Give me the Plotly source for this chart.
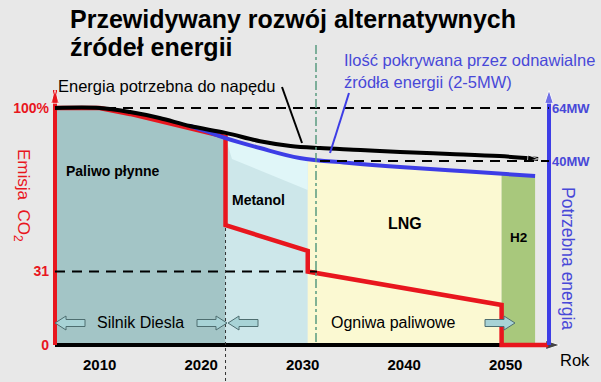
import numpy as np
import plotly.graph_objects as go

# ---------------- data ----------------
years_energy = [2005.6, 2010.0, 2013.0, 2015.9, 2018.9, 2022.4, 2025.8, 2028.8, 2031.7, 2035.7, 2039.6, 2044.5, 2049.4, 2053.2]
energy_need = [100, 100, 98.3, 95.8, 92.4, 89.5, 86.0, 84.0, 83.1, 82.3, 81.4, 80.6, 79.7, 78.5]

years_renew = [2018.9, 2020.5, 2022.4, 2025.8, 2029.7, 2034.6, 2039.6, 2046.0, 2052.9]
renewable = [92.4, 90.2, 87.3, 83.1, 78.9, 76.8, 75.1, 73.3, 71.3]

years_co2 = [2005.6, 2010.0, 2013.0, 2015.9, 2018.9, 2022.4, 2022.4, 2030.5, 2030.5, 2049.6, 2049.6, 2054.2]
co2 = [100, 100, 97.5, 94.5, 91.0, 87.8, 50.6, 39.7, 31, 16.9, 0, 0]

region_names = ["Paliwo płynne", "Metanol", "LNG", "H2"]
region_edges = [2005.6, 2022.4, 2030.5, 2049.6, 2052.9]
region_colors = ["#a3c5c6", "#cde7ea", "#fbf9d2", "#a8c87c"]

co2_tick_vals = [0, 31, 100]
co2_tick_text = ["0", "31", "100%"]
power_tick_vals = [77.6, 100]
power_tick_text = ["40MW", "64MW"]
year_ticks = [2010, 2020, 2030, 2040, 2050]

# ---------------- geometry helpers ----------------
W, H = 601, 382
ML, MR, MT, MB = 50, 26, 80, 32
PXY = 10.15   # px per year
PXV = 2.37    # px per value unit
AX_X = 2005.6
PW, PH = W - ML - MR, H - MT - MB
x_range = [AX_X - 5 / PXY, AX_X + (PW - 5) / PXY]
y_range = [-5 / PXV, (345 - MT) / PXV]


def yr(px):
    return AX_X + (px - 55) / PXY


def val(py):
    return (345 - py) / PXV


def xp(px):
    return (px - ML) / PW


def yp(py):
    return (H - MB - py) / PH


BLUE_AX = yr(549)
RED = "#e8161e"
BLUE = "#3d3de6"
TXTBLUE = "#4848d8"
FONT = "Liberation Sans, Arial, sans-serif"

fig = go.Figure()

# filled regions
for i, (name, col) in enumerate(zip(region_names, region_colors)):
    a, b = region_edges[i], region_edges[i + 1]
    if i == 0:
        xs_src, ys_src = years_co2[:6], co2[:6]
    else:
        xs_src, ys_src = years_renew, renewable
    inner = [x for x in xs_src if a < x < b]
    xs = [a] + inner + [b]
    ys = list(np.interp(xs, xs_src, ys_src))
    fig.add_trace(go.Scatter(x=xs, y=ys, fill="tozeroy", fillcolor=col, mode="lines",
                             line=dict(width=0, color=col), hoverinfo="skip", showlegend=False))

# lighter upper band of the methanol region
a, b = region_edges[1], region_edges[2]
inner = [x for x in years_renew if a < x < b]
hx = [a] + inner + [b]
hy = list(np.interp(hx, years_renew, renewable))
fig.add_trace(go.Scatter(x=hx + [b, yr(232)], y=hy + [val(190), val(159)], fill="toself",
                         fillcolor="#e0f6f8", mode="lines", line=dict(width=0, color="#e0f6f8"),
                         hoverinfo="skip", showlegend=False))

# axes as traces
fig.add_trace(go.Scatter(x=[AX_X, yr(560)], y=[0, 0], mode="lines+markers",
                         line=dict(color="black", width=4),
                         marker=dict(symbol="arrow", size=[0, 15], angleref="previous", color="black"),
                         hoverinfo="skip", showlegend=False))
fig.add_trace(go.Scatter(x=[AX_X, AX_X], y=[0, val(90)], mode="lines+markers",
                         line=dict(color=RED, width=4),
                         marker=dict(symbol="arrow", size=[0, 14], angleref="previous", color=RED),
                         hoverinfo="skip", showlegend=False))

# curves
fig.add_trace(go.Scatter(x=years_co2, y=co2, mode="lines", line=dict(color=RED, width=4.5),
                         hoverinfo="skip", showlegend=False))
fig.add_trace(go.Scatter(x=years_renew, y=renewable, mode="lines", line=dict(color=BLUE, width=4, shape="spline"),
                         hoverinfo="skip", showlegend=False))
fig.add_trace(go.Scatter(x=years_energy, y=energy_need, mode="lines+markers",
                         line=dict(color="black", width=4, shape="spline"),
                         marker=dict(symbol="arrow", size=[0] * (len(years_energy) - 1) + [11],
                                     angleref="previous", color="black"),
                         hoverinfo="skip", showlegend=False))

# blue right axis on y2
fig.add_trace(go.Scatter(x=[BLUE_AX, BLUE_AX], y=[0, val(90)], mode="lines+markers", yaxis="y2",
                         line=dict(color=BLUE, width=4),
                         marker=dict(symbol="arrow", size=[0, 14], angleref="previous", color=BLUE),
                         hoverinfo="skip", showlegend=False))

DASH = "10px,7px"
shapes = [
    dict(type="line", xref="x", yref="y", x0=AX_X, x1=BLUE_AX, y0=100, y1=100,
         line=dict(color="black", width=2, dash=DASH)),
    dict(type="line", xref="x", yref="y", x0=yr(320), x1=BLUE_AX, y0=power_tick_vals[0], y1=power_tick_vals[0],
         line=dict(color="black", width=2, dash=DASH)),
    dict(type="line", xref="x", yref="y", x0=AX_X, x1=yr(317), y0=31, y1=31,
         line=dict(color="black", width=2, dash=DASH)),
    dict(type="line", xref="x", yref="paper", x0=region_edges[1], x1=region_edges[1], y0=yp(228), y1=yp(382),
         line=dict(color="#333333", width=1, dash="dot")),
    dict(type="line", xref="x", yref="paper", x0=yr(316), x1=yr(316), y0=yp(45), y1=yp(345),
         line=dict(color="#5a9b80", width=1.5, dash="dashdot")),
    dict(type="line", xref="x", yref="y", x0=yr(282), x1=yr(302), y0=val(87), y1=val(143),
         line=dict(color="black", width=2)),
    dict(type="line", xref="x", yref="y", x0=yr(349), x1=yr(330), y0=val(93), y1=val(153),
         line=dict(color=BLUE, width=2)),
]

# block arrows
arrow_specs = [(yr(70), "left"), (yr(212), "right"), (yr(243), "left"), (yr(500), "right")]
left_path = "M-15,0 L-4,7 L-4,3.5 L15,3.5 L15,-3.5 L-4,-3.5 L-4,-7 Z"
right_path = "M15,0 L4,7 L4,3.5 L-15,3.5 L-15,-3.5 L4,-3.5 L4,-7 Z"
for ax_x, d in arrow_specs:
    shapes.append(dict(type="path", xref="x", yref="y", xsizemode="pixel", ysizemode="pixel",
                       xanchor=ax_x, yanchor=val(323),
                       path=left_path if d == "left" else right_path,
                       fillcolor="#a8d3d6", line=dict(color="#4e6e70", width=1)))

ann = []


def A(text, x, y, size, color="black", xref="paper", yref="paper", xanchor="center", angle=0, bold=False):
    t = "<b>%s</b>" % text if bold else text
    ann.append(dict(text=t, x=x, y=y, xref=xref, yref=yref, xanchor=xanchor, yanchor="middle",
                    showarrow=False, textangle=angle, font=dict(family=FONT, size=size, color=color)))


A("Przewidywany rozwój alternatywnych", xp(68), yp(19), 25, xanchor="left", bold=True)
A("źródeł energii", xp(68), yp(47), 25, xanchor="left", bold=True)
A("Energia potrzebna do napędu", xp(56), yp(86), 16.5, xanchor="left")
A("Ilość pokrywana przez odnawialne", xp(342), yp(60), 16.5, color=TXTBLUE, xanchor="left")
A("źródła energii (2-5MW)", xp(342), yp(82), 16.5, color=TXTBLUE, xanchor="left")
A("Emisja  CO<sub>2</sub>", xp(22), yp(196), 17, color=RED, angle=90)
A("Potrzebna energia", xp(568), yp(258), 17.5, color=TXTBLUE, angle=90)
A("Rok", xp(575), yp(360), 16.5)
A(region_names[0], yr(113), val(171), 14, xref="x", yref="y", bold=True)
A(region_names[1], yr(258), val(200), 14, xref="x", yref="y", bold=True)
A(region_names[2], yr(405), val(223), 16, xref="x", yref="y", bold=True)
A(region_names[3], yr(518), val(237), 13.5, xref="x", yref="y", bold=True)
A("Silnik Diesla", yr(140), val(322), 16, xref="x", yref="y")
A("Ogniwa paliwowe", yr(393), val(322), 16, xref="x", yref="y")

fig.update_layout(
    width=W, height=H, margin=dict(l=ML, r=MR, t=MT, b=MB, autoexpand=False),
    paper_bgcolor="#e8e8e8", plot_bgcolor="#e8e8e8",
    font=dict(family=FONT),
    showlegend=False,
    shapes=shapes, annotations=ann,
    xaxis=dict(range=x_range, showgrid=False, zeroline=False, showline=False,
               tickvals=year_ticks, ticktext=["<b>%d</b>" % y for y in year_ticks],
               tickfont=dict(size=15, color="black", family=FONT), ticks="", ticklabelstandoff=4,
               fixedrange=True),
    yaxis=dict(range=y_range, showgrid=False, zeroline=False, showline=False,
               tickvals=co2_tick_vals, ticktext=["<b>%s</b>" % t for t in co2_tick_text],
               tickfont=dict(size=14, color=RED, family=FONT), ticks="", ticklabelstandoff=0,
               fixedrange=True),
    yaxis2=dict(range=y_range, overlaying="y", anchor="free", position=xp(549), side="right",
                showgrid=False, zeroline=False, showline=False,
                tickvals=power_tick_vals, ticktext=["<b>%s</b>" % t for t in power_tick_text],
                tickfont=dict(size=13, color=TXTBLUE, family=FONT), ticks="", ticklabelstandoff=2,
                fixedrange=True),
)

fig.write_html("out.html")
